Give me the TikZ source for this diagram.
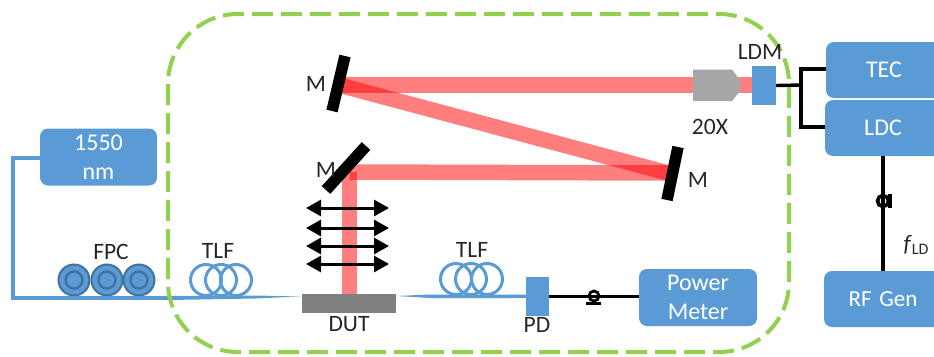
\documentclass[tikz,border=0pt]{standalone}
\usepackage{fontspec}
\setmainfont{Carlito}
\usetikzlibrary{arrows.meta,calc}
\definecolor{bluebox}{HTML}{5B9BD5}
\definecolor{darkblue}{HTML}{41719C}
\definecolor{greenline}{HTML}{92D050}
\tikzset{
  box/.style={draw=none,fill=bluebox,rounded corners=8pt,text=white,align=center,inner sep=0pt,font=\fontsize{24}{29.5}\selectfont},
  lbl/.style={inner sep=0pt,text=black!85,font=\fontsize{23.5}{26}\selectfont},
  block/.style={fill=bluebox,draw=none,inner sep=0pt},
  fibre/.style={draw=bluebox,line width=4pt},
  coil/.style={draw=bluebox,line width=3pt,fill=none,circle,minimum size=31pt,inner sep=0pt},
  pol/.style={draw=darkblue,line width=2pt,fill=bluebox,circle,minimum size=31pt,inner sep=0pt},
  polin/.style={draw=darkblue,line width=2.4pt,fill=none,circle,minimum size=17pt,inner sep=0pt},
  wire/.style={draw=black,line width=3.4pt},
  beam/.style={draw=red,draw opacity=.5,line width=15.5pt},
  mirror/.style={draw=black,line width=11.5pt},
  twoway/.style={draw=black,line width=3pt,{Triangle[length=15pt,width=16pt]}-{Triangle[length=15pt,width=16pt]}},
  grayblk/.style={fill=black!50,draw=none,inner sep=0pt},
}
\begin{document}
\begin{tikzpicture}[x=1pt,y=-1pt]
\useasboundingbox (0,0) rectangle (934,356);
% boxes
\node[box,minimum width=117pt,minimum height=57pt] (laser) at (98.5,157) {1550\\nm};
\node[box,minimum width=118pt,minimum height=57pt] (pm) at (698,297.5) {Power\\Meter};
\node[box,minimum width=120pt,minimum height=56pt,text width=104pt] (tec) at (886,70) {\hspace*{-4pt}TEC};
\node[box,minimum width=120pt,minimum height=56pt,text width=104pt] (ldc) at (885,128) {\hspace*{-4pt}LDC};
\node[box,minimum width=122pt,minimum height=56pt,text width=104pt,font=\fontsize{23}{28}\selectfont] (rf) at (885,299) {\hspace*{-4pt}RF Gen};
% fibre
\coordinate (fa) at (13,158);
\coordinate (fb) at (13,298);
\coordinate (tip1) at (300,296.5);
\coordinate (tip2) at (396,296);
\draw[fibre,line join=miter] (laser.west |- fa) -- (fa) -- (fb) -- (170,298);
\fill[bluebox] (170,296) -- (255,295.5) -- (tip1) -- (255,298.5) -- (170,300) -- cycle;
\node[pol] (p1) at (74,280) {}; \node[polin] at (p1) {};
\node[pol] (p2) at (107,280) {}; \node[polin] at (p2) {};
\node[pol] (p3) at (139,280) {}; \node[polin] at (p3) {};
\draw[fibre] (68,298) -- (170,298);
\node[coil] (c1) at (206,280) {};
\node[coil] (c2) at (221,280) {};
\node[coil] (c3) at (236,280) {};
% green enclosure
\draw[greenline,line width=4pt,dash pattern=on 21pt off 8pt,rounded corners=70pt] (168,14) rectangle (789,352);
% beams
\coordinate (m1) at (339,85);
\coordinate (m2) at (350,172);
\coordinate (m3) at (668,173);
\draw[beam] (m1) -- (752,85);
\draw[beam] (m1) -- (m3);
\draw[beam] (m3) -- (m2);
\draw[beam] (349.5,172) -- (349.5,294);
% mirrors
\draw[mirror] (345,56) -- (332,111);
\draw[mirror] (366,146) -- (326,190);
\draw[mirror] (678,147) -- (667,200);
% objective
\fill[black!35] (693,69.5) -- (732,69.5) -- (740,80) -- (740,91) -- (732,101) -- (693,101) -- cycle;
% small blocks
\node[block,minimum width=24pt,minimum height=39pt] (ldm) at (764,85.5) {};
\node[block,minimum width=23pt,minimum height=39pt] (pd) at (537.5,296.5) {};
\node[grayblk,minimum width=94pt,minimum height=19pt] (dut) at (349,303.5) {};
% output fibre
\fill[bluebox] (dut.east |- tip2) -- (430,294.5) -- (pd.west |- 0,294.5) -- (pd.west |- 0,298) -- (430,298) -- cycle;
\node[coil] (c4) at (456,279) {};
\node[coil] (c5) at (471,279) {};
\node[coil] (c6) at (487,279) {};
% translation arrows
\foreach \n/\y in {a/208,b/228,c/246,d/264}{
  \coordinate (l\n) at (306,\y);
  \coordinate (r\n) at (389,\y);
  \draw[twoway] (l\n) -- (r\n);
}
% wires
\coordinate (jn) at (801,85);
\draw[wire] (ldm.east) -- (jn);
\draw[wire] (tec.west |- 0,69) -- (801,69) -- (801,127) -- (ldc.west |- 0,127);
\draw[wire] (ldc.south -| 883,0) -- (rf.north -| 883,0);
\draw[wire] (pd.east) -- (pm.west |- pd.east);
% fibre-connector symbols
\node[circle,draw=black,line width=2.8pt,minimum size=10pt,inner sep=0pt] (s1) at (594,296) {};
\draw[black,line width=3pt] (586,303) -- (601,303);
\node[circle,draw=black,line width=3.6pt,minimum size=11pt,inner sep=0pt] (s2) at (883,201) {};
\draw[black,line width=3.4pt] (890,194) -- (890,208);
% labels
\node[lbl] (tfpc) at (111,252) {FPC};
\node[lbl] (ttlf1) at (218,251) {TLF};
\node[lbl] (ttlf2) at (472,250) {TLF};
\node[lbl] (tdut) at (349,324) {DUT};
\node[lbl] (tpd) at (537,325) {PD};
\node[lbl] (tldm) at (760,52) {LDM};
\node[lbl] (t20) at (710,127) {20X};
\node[lbl] (tm1) at (316,84) {M};
\node[lbl] (tm2) at (326,170) {M};
\node[lbl] (tm3) at (698,180) {M};
\node[lbl] (tf) at (916,245) {\textit{f}\raisebox{-3pt}{\fontsize{16}{16}\selectfont LD}};
\end{tikzpicture}
\end{document}
